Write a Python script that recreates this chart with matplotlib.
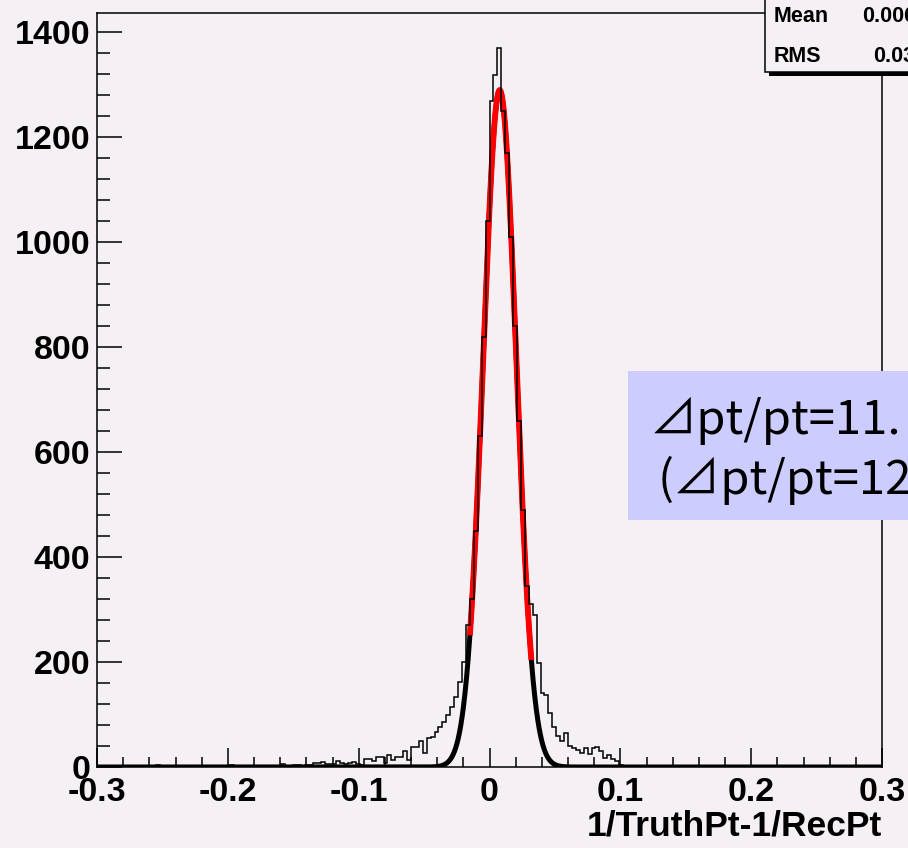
import numpy as np
import matplotlib
matplotlib.use("Agg")
import matplotlib.pyplot as plt
from matplotlib.patches import Rectangle
from matplotlib.ticker import FixedLocator, FixedFormatter, MultipleLocator

# ---------------- data ----------------
x_min, x_max, n_bins = -0.3, 0.3, 200
# bin index (0..199, bin width 0.003 starting at -0.3) and counts
bin_index = [15, 34, 47, 50, 51, 52, 53, 54, 55, 56, 57, 58, 59, 60, 61, 62, 63, 64, 65, 66,
             67, 68, 69, 70, 71, 72, 73, 74, 75, 76, 77, 78, 79, 80, 81, 82, 83, 84, 85, 86,
             87, 88, 89, 90, 91, 92, 93, 94, 95, 96, 97, 98, 99, 100, 101, 102, 103, 104, 105, 106,
             107, 108, 109, 110, 111, 112, 113, 114, 115, 116, 117, 118, 119, 120, 121, 122, 123, 124, 125, 126,
             127, 128, 129, 130, 131, 132, 133]
bin_count = [4, 4, 5, 3, 3, 2, 4, 3, 7, 7, 10, 6, 5, 6, 11, 8, 6, 7, 9, 5,
             4, 15, 15, 11, 19, 19, 8, 22, 14, 20, 19, 30, 14, 39, 39, 50, 27, 56, 58, 67,
             76, 86, 100, 115, 134, 162, 200, 270, 320, 450, 630, 820, 1040, 1270, 1318, 1370, 1250, 1170, 1010, 840,
             660, 490, 345, 310, 290, 198, 141, 137, 103, 76, 59, 50, 65, 40, 36, 33, 27, 36, 25, 36,
             38, 30, 17, 22, 15, 12, 4]

# Gaussian fit parameters
fit_amp, fit_mean, fit_sigma = 1290.0, 0.0078, 0.0126
fit_range = (-0.015, 0.032)

x_ticks = [-0.3, -0.2, -0.1, 0.0, 0.1, 0.2, 0.3]
x_tick_labels = ["-0.3", "-0.2", "-0.1", "0", "0.1", "0.2", "0.3"]
y_ticks = [0, 200, 400, 600, 800, 1000, 1200, 1400]
y_tick_labels = ["0", "200", "400", "600", "800", "1000", "1200", "1400"]
x_label = "1/TruthPt-1/RecPt"
stat_names = ["Mean", "RMS"]
stat_values = ["0.006", "0.03"]
note_lines = ["⊿pt/pt=11.", "(⊿pt/pt=12"]

# ---------------- figure ----------------
W, H = 908, 848
bg = "#f4f0f4"
fig = plt.figure(figsize=(W / 100, H / 100), dpi=100)
fig.patch.set_facecolor(bg)

def fx(px):
    return px / W

def fy(py):
    return 1 - py / H

ax_left, ax_right, ax_top, ax_bottom = 97, 882, 13, 767
ax = fig.add_axes([fx(ax_left), fy(ax_bottom), (ax_right - ax_left) / W, (ax_bottom - ax_top) / H])
ax.set_facecolor(bg)

edges = np.linspace(x_min, x_max, n_bins + 1)
counts = np.zeros(n_bins)
counts[bin_index] = bin_count

# fit function drawn over whole range (black) and fit range (red)
xf = np.linspace(x_min, x_max, 3000)
yf = fit_amp * np.exp(-0.5 * ((xf - fit_mean) / fit_sigma) ** 2)
ax.plot(xf, yf, color="black", lw=3.6, zorder=2, solid_capstyle="butt")
xr = np.linspace(fit_range[0], fit_range[1], 600)
yr = fit_amp * np.exp(-0.5 * ((xr - fit_mean) / fit_sigma) ** 2)
ax.plot(xr, yr, color="#ff0000", lw=4.2, zorder=3, solid_capstyle="butt")

ax.stairs(counts, edges, color="black", lw=1.1, zorder=4)

ax.set_xlim(x_min, x_max)
ax.set_ylim(0, 1437)

ax.xaxis.set_major_locator(FixedLocator(x_ticks))
ax.xaxis.set_major_formatter(FixedFormatter(x_tick_labels))
ax.xaxis.set_minor_locator(MultipleLocator(0.02))
ax.yaxis.set_major_locator(FixedLocator(y_ticks))
ax.yaxis.set_major_formatter(FixedFormatter(y_tick_labels))
ax.yaxis.set_minor_locator(MultipleLocator(40))
ax.tick_params(axis="x", which="major", direction="in", length=14, width=1.1, pad=7)
ax.tick_params(axis="x", which="minor", direction="in", length=7, width=1.1)
ax.tick_params(axis="y", which="major", direction="in", length=18, width=1.1, pad=5)
ax.tick_params(axis="y", which="minor", direction="in", length=9, width=1.1)
for lab in ax.get_xticklabels() + ax.get_yticklabels():
    lab.set_fontfamily("Liberation Sans")
    lab.set_fontweight("bold")
    lab.set_fontsize(24.5)
for s in ax.spines.values():
    s.set_linewidth(1.1)

fig.text(fx(882), fy(843), x_label, ha="right", va="bottom",
         family="Liberation Sans", weight="bold", size=25.5)

# stat box (cut at the image edge)
shadow = Rectangle((fx(769), fy(76)), fx(200), fy(-20) - fy(76), transform=fig.transFigure,
                   facecolor="black", edgecolor="none", zorder=5)
fig.patches.append(shadow)
sbox = Rectangle((fx(765), fy(72)), fx(200), fy(-20) - fy(72), transform=fig.transFigure,
                 facecolor=bg, edgecolor="black", lw=1.1, zorder=6)
fig.patches.append(sbox)
stat_font = dict(family="Liberation Sans", weight="bold", size=15.5, zorder=7)
fig.text(fx(774), fy(16), stat_names[0], ha="left", va="center", **stat_font)
fig.text(fx(774), fy(57), stat_names[1], ha="left", va="center", **stat_font)
fig.text(fx(862), fy(16), stat_values[0], ha="left", va="center", **stat_font)
fig.text(fx(873), fy(57), stat_values[1], ha="left", va="center", **stat_font)

# note box
nbox = Rectangle((fx(628), fy(520)), fx(300), fy(371) - fy(520), transform=fig.transFigure,
                 facecolor="#ccccff", edgecolor="none", zorder=5)
fig.patches.append(nbox)
note_font = dict(family=["Noto Sans CJK JP", "DejaVu Sans"], size=34, zorder=7)
fig.text(fx(650), fy(434), note_lines[0], ha="left", va="baseline", **note_font)
fig.text(fx(658), fy(494), note_lines[1], ha="left", va="baseline", **note_font)

fig.savefig("out.png", dpi=100, facecolor=bg)
